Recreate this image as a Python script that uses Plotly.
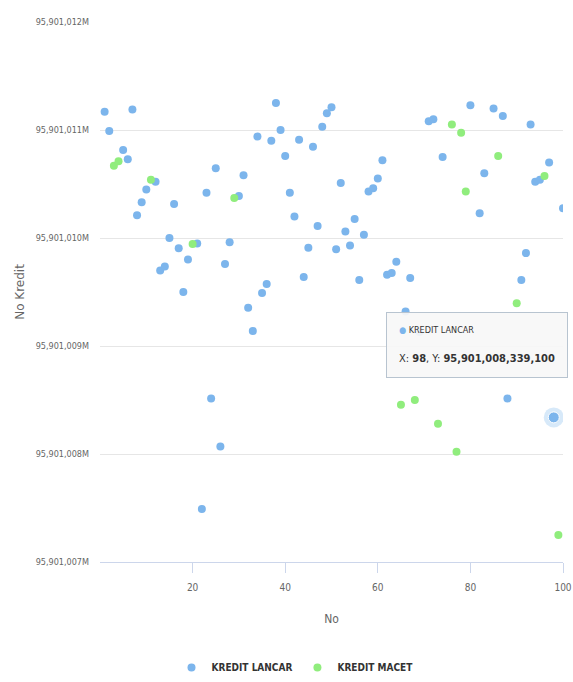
import plotly.graph_objects as go

# ---- data (Y values in millions) ----
lancar_x = [1, 2, 5, 6, 7, 8, 9, 10, 12, 13, 14, 15, 16, 17, 18, 19, 21, 22, 23, 24,
            25, 26, 27, 28, 30, 31, 32, 33, 34, 35, 36, 37, 38, 39, 40, 41, 42, 43, 44, 45,
            46, 47, 48, 49, 50, 51, 52, 53, 54, 55, 56, 57, 58, 59, 60, 61, 62, 63, 64, 66,
            67, 69, 71, 72, 74, 80, 82, 83, 85, 87, 88, 91, 92, 93, 94, 95, 97, 98, 100]
lancar_y = [95901011.17, 95901010.99, 95901010.815, 95901010.73, 95901011.19, 95901010.21,
            95901010.33, 95901010.45, 95901010.52, 95901009.70, 95901009.735, 95901010.00,
            95901010.315, 95901009.905, 95901009.50, 95901009.80, 95901009.95, 95901007.49,
            95901010.42, 95901008.515, 95901010.645, 95901008.07, 95901009.76, 95901009.96,
            95901010.39, 95901010.58, 95901009.355, 95901009.14, 95901010.94, 95901009.49,
            95901009.575, 95901010.90, 95901011.25, 95901011.00, 95901010.76, 95901010.42,
            95901010.20, 95901010.91, 95901009.64, 95901009.91, 95901010.845, 95901010.11,
            95901011.03, 95901011.155, 95901011.21, 95901009.895, 95901010.51, 95901010.06,
            95901009.93, 95901010.175, 95901009.61, 95901010.03, 95901010.43, 95901010.46,
            95901010.55, 95901010.72, 95901009.66, 95901009.675, 95901009.78, 95901009.32,
            95901009.63, 95901009.13, 95901011.08, 95901011.10, 95901010.75, 95901011.23,
            95901010.23, 95901010.60, 95901011.20, 95901011.13, 95901008.515, 95901009.61,
            95901009.86, 95901011.05, 95901010.52, 95901010.54, 95901010.70, 95901008.3391,
            95901010.275]
macet_x = [3, 4, 11, 20, 29, 65, 68, 73, 76, 77, 78, 79, 86, 90, 96, 99]
macet_y = [95901010.67, 95901010.71, 95901010.54, 95901009.945, 95901010.37, 95901008.455,
           95901008.50, 95901008.28, 95901011.05, 95901008.02, 95901010.975, 95901010.43,
           95901010.76, 95901009.395, 95901010.575, 95901007.25]
x_ticks = [20, 40, 60, 80, 100]
y_ticks = [95901007, 95901008, 95901009, 95901010, 95901011, 95901012]
y_ticktext = [f"{v:,}M" for v in y_ticks]
hover_x = 98

BLUE = "#7cb5ec"
GREEN = "#90ed7d"
FONT = "DejaVu Sans Condensed, DejaVu Sans, sans-serif"

hover_y = lancar_y[lancar_x.index(hover_x)]

fig = go.Figure()
fig.add_trace(go.Scatter(x=lancar_x, y=lancar_y, mode="markers", name="KREDIT LANCAR",
                         marker=dict(color=BLUE, size=8)))
fig.add_trace(go.Scatter(x=macet_x, y=macet_y, mode="markers", name="KREDIT MACET",
                         marker=dict(color=GREEN, size=8)))
# hovered point halo
fig.add_trace(go.Scatter(x=[hover_x], y=[hover_y], mode="markers", showlegend=False,
                         hoverinfo="skip",
                         marker=dict(color="rgba(124,181,236,0.3)", size=20)))
fig.add_trace(go.Scatter(x=[hover_x], y=[hover_y], mode="markers", showlegend=False,
                         hoverinfo="skip",
                         marker=dict(color=BLUE, size=11, line=dict(color="white", width=1))))

tip = (f"<span style='font-size:9px'><span style='color:{BLUE}'>●</span> KREDIT LANCAR</span>"
       f"<br> <br>X: <b>{hover_x}</b>, Y: <b>{hover_y * 1e6:,.0f}</b>")
fig.add_annotation(x=hover_x, y=hover_y, xref="x", yref="y", showarrow=False,
                   text=tip, align="left", xanchor="right", yanchor="bottom",
                   xshift=14, yshift=39,
                   font=dict(family=FONT, size=11, color="#333333"),
                   bgcolor="rgba(247,247,247,0.92)", bordercolor="#b8c4d0",
                   borderwidth=1, borderpad=12)

fig.update_layout(
    width=573, height=682,
    margin=dict(l=100, r=10, t=22, b=120),
    paper_bgcolor="white", plot_bgcolor="white",
    font=dict(family=FONT, color="#666666", size=10),
    showlegend=True,
    legend=dict(orientation="h", x=(295 - 100) / 463, y=0.0, yref="container",
                xanchor="center", yanchor="bottom",
                font=dict(family=FONT, size=10, color="#333333", weight="bold"),
                itemwidth=30),
    xaxis=dict(range=[0, 100], tickvals=x_ticks, showgrid=False, zeroline=False,
               automargin=False,
               showline=True, linecolor="#ccd6eb", ticks="outside", ticklen=10,
               tickcolor="#ccd6eb", ticklabelstandoff=6, ticklabeloverflow="allow",
               tickfont=dict(family=FONT, size=10, color="#666666"),
               title=dict(text="No", font=dict(family=FONT, size=12, color="#666666"),
                          standoff=22)),
    yaxis=dict(range=[95901007, 95901012], tickvals=y_ticks, ticktext=y_ticktext,
               gridcolor="#e6e6e6", zeroline=False, showline=False,
               ticklabelstandoff=10,
               tickfont=dict(family=FONT, size=9, color="#666666"),
               title=dict(text="No Kredit", font=dict(family="DejaVu Sans", size=12,
                                                      color="#666666"), standoff=8)),
)

fig.write_html("out.html", config={"displayModeBar": False},
               post_script="document.body.style.margin='0';")
